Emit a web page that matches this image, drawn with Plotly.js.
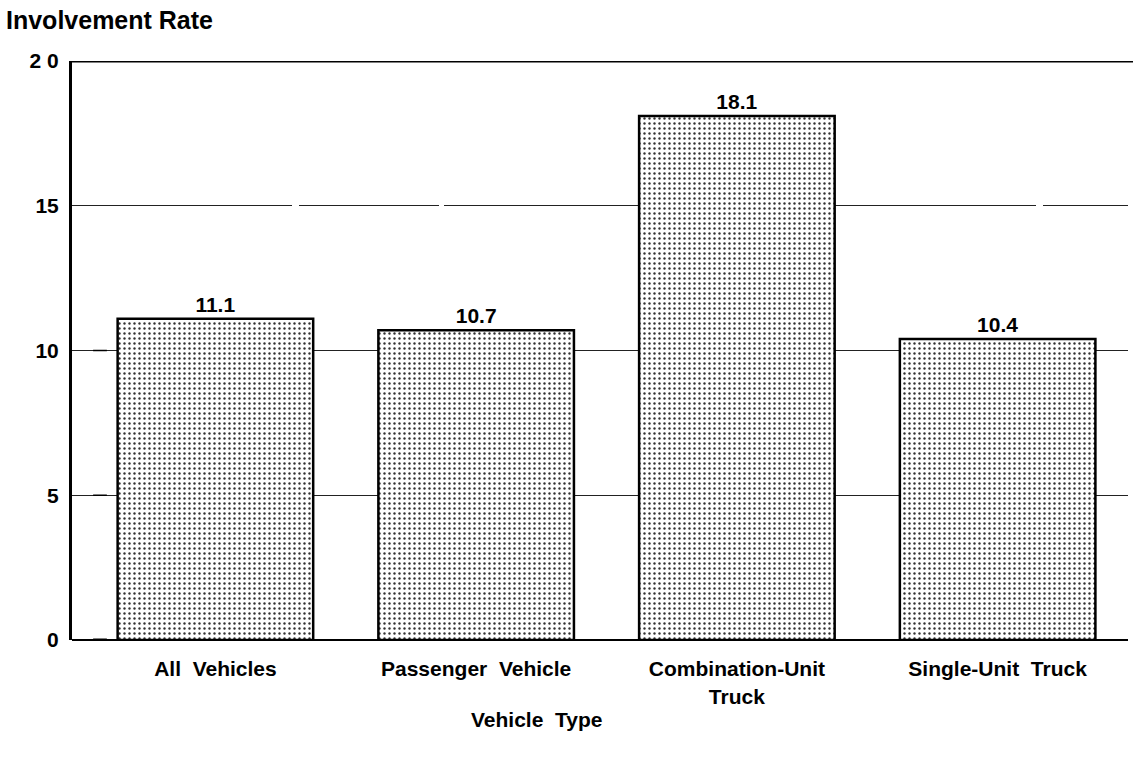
<!DOCTYPE html>
<html>
<head>
<meta charset="utf-8">
<script src="https://cdn.plot.ly/plotly-3.0.1.min.js"></script>
<style>
  html, body { margin: 0; padding: 0; background: #fff; }
  #chart { width: 1133px; height: 760px; }
</style>
</head>
<body>
<div id="chart"></div>
<script>
// Crash involvement rate by vehicle type
const vehicleTypes = ['All  Vehicles', 'Passenger  Vehicle', 'Combination-Unit<br>Truck', 'Single-Unit  Truck'];
const involvementRates = [11.1, 10.7, 18.1, 10.4];
const yTickValues = [0, 5, 10, 15, 20];
const yTickLabels = ['0', '5', '10', '15', '2 0'];

const narrow = '"Liberation Sans Narrow", "Liberation Sans", Arial, sans-serif';
const wide = '"Liberation Sans", Arial, sans-serif';

const trace = {
  type: 'bar',
  x: [0, 1, 2, 3],
  y: involvementRates,
  text: involvementRates.map(v => v.toFixed(1)),
  textposition: 'outside',
  cliponaxis: false,
  textfont: { family: wide, size: 21, color: '#000', weight: 'bold' },
  marker: {
    color: '#ffffff',
    line: { color: '#000', width: 2.5 },
    pattern: { shape: '.', size: 5, solidity: 0.18, fgcolor: '#333', bgcolor: '#fff' }
  },
  hoverinfo: 'skip'
};

const layout = {
  width: 1133,
  height: 760,
  margin: { l: 72, r: 5, t: 61, b: 120 },
  paper_bgcolor: '#fff',
  plot_bgcolor: '#fff',
  showlegend: false,
  bargap: 0.25,
  font: { family: narrow, color: '#000' },
  xaxis: {
    range: [-0.55, 3.5],
    tickmode: 'array',
    tickvals: [0, 1, 2, 3],
    ticktext: vehicleTypes,
    ticks: 'outside',
    ticklen: 10,
    tickcolor: 'rgba(0,0,0,0)',
    tickfont: { family: narrow, size: 21, color: '#000', weight: 'bold' },
    showgrid: false,
    showline: false,
    zeroline: false
  },
  yaxis: {
    range: [0, 20],
    tickmode: 'array',
    tickvals: yTickValues,
    ticktext: yTickLabels,
    ticks: '',
    ticklabelstandoff: 6,
    tickfont: { family: narrow, size: 21, color: '#000', weight: 'bold' },
    showline: true,
    linecolor: '#000',
    linewidth: 3,
    showgrid: true,
    gridcolor: '#222',
    gridwidth: 1.2,
    griddash: '220px,7px,140px,5px',
    zeroline: true,
    zerolinecolor: '#000',
    zerolinewidth: 2
  },
  shapes: [
    // heavy rule along the top of the frame
    { type: 'line', xref: 'paper', yref: 'y', x0: 0, x1: 1.01, y0: 20, y1: 20,
      line: { color: '#000', width: 3 } },
    // short marks beside the axis at 0, 5 and 10
    ...[0, 5, 10].map(v => ({
      type: 'line', xref: 'paper', yref: 'y', x0: 0.02, x1: 0.033, y0: v, y1: v,
      line: { color: '#000', width: v === 0 ? 3 : 1.5 }
    }))
  ],
  annotations: [
    { text: 'Involvement Rate', xref: 'paper', yref: 'paper', x: -0.064, y: 1.071,
      xanchor: 'left', yanchor: 'middle', showarrow: false,
      font: { family: wide, size: 25, color: '#000', weight: 'bold' } },
    { text: 'Vehicle  Type', xref: 'paper', yref: 'paper', x: 0.44, y: -0.138,
      xanchor: 'center', yanchor: 'middle', showarrow: false,
      font: { family: narrow, size: 21, color: '#000', weight: 'bold' } }
  ]
};

Plotly.newPlot('chart', [trace], layout, { displayModeBar: false, staticPlot: true });
</script>
</body>
</html>
